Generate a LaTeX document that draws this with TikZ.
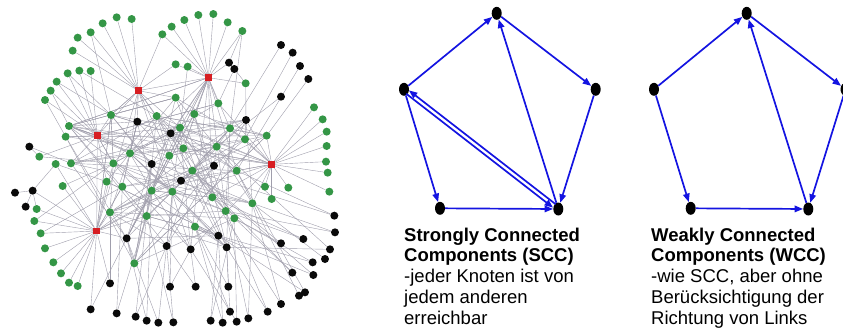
\documentclass[tikz,border=0pt]{standalone}
\usepackage{fontspec}
\setmainfont{Liberation Sans}
\usetikzlibrary{arrows.meta,shapes.geometric,backgrounds}
\definecolor{ngreen}{RGB}{52,150,70}
\definecolor{nred}{RGB}{215,30,35}
\definecolor{nblack}{RGB}{10,10,10}
\definecolor{nedge}{RGB}{160,158,172}
\definecolor{abl}{RGB}{20,20,225}
\tikzset{
 gdot/.style={circle,fill=ngreen,inner sep=0,minimum size=8pt},
 bdot/.style={circle,fill=nblack,inner sep=0,minimum size=8pt},
 rdot/.style={rectangle,fill=nred,inner sep=0,minimum size=6.5pt},
 nline/.style={draw=nedge,line width=0.4pt},
 vx/.style={ellipse,fill=black,inner sep=0,minimum width=10pt,minimum height=13pt},
 arr/.style={draw=abl,line width=1.7pt,-{Triangle[length=8.5pt,width=6.5pt]}},
 caption/.style={anchor=north west,inner sep=0,align=left,font=\fontsize{18.5}{20.8}\selectfont}
}
\begin{document}
\begin{tikzpicture}[x=1pt,y=-1pt]
\useasboundingbox (0,0) rectangle (843,335);
% ---------------- network ----------------
\begin{scope}[x=0.33333pt,y=-0.33333pt]
\foreach \x/\y [count=\i] in {308/70,350/52,395/57,272/97,233/113,218/152,203/220,238/212,272/213,170/245,
 152/272,135/300,487/103,515/80,553/60,595/45,640/42,683/67,727/93,527/193,
 563/200,737/250,527/293,655/310,942/322,968/358,980/395,980/438,978/485,983/518,
 988/575,865/563,815/597,795/560,207/378,197/410,118/470,167/492,213/490,188/558,
 110/627,103/663,122/700,135/745,160/787,183/820,207/848,233/858,333/345,470/348,
 583/342,540/383,690/385,735/418,800/407,390/460,340/490,508/467,550/445,650/440,
 710/512,577/512,320/545,367/560,455/572,517/575,637/592,677/633,703/655,757/610,
 330/637,440/648,585/680,403/790}
 \node[gdot] (g\i) at (\x,\y) {};
\foreach \x/\y [count=\i] in {843/135,878/158,900/198,925/237,843/290,687/188,703/207,738/360,412/365,512/400,
 455/492,642/497,543/542,88/440,45/578,98/572,77/620,380/715,500/738,572/748,
 655/707,680/742,1003/647,1005/697,843/730,910/717,990/748,975/777,938/787,940/825,
 877/818,897/887,915/877,843/912,803/935,745/955,710/965,668/968,632/962,690/935,
 685/860,587/860,510/860,520/967,475/968,440/962,407/950,350/940,272/928,330/850}
 \node[bdot] (b\i) at (\x,\y) {};
\foreach \x/\y [count=\i] in {415/272,625/233,292/407,815/493,290/693}
 \node[rdot] (r\i) at (\x,\y) {};
\begin{pgfonlayer}{background}
 \foreach \t in {g1,g2,g3,g4,g5,g6,g13,g20,g23,g49,g50,b9,g56,r2,r3,g52}
  \draw[nline] (r1) -- (\t);
 \foreach \t in {g13,g14,g15,g16,g17,g18,g19,g20,g21,g22,g24,g51,g52,b6,b10,g53,g59}
  \draw[nline] (r2) -- (\t);
 \foreach \t in {g7,g8,g9,g10,g11,g12,g35,g36,g37,g39,g49,g57,g63,r5,g56}
  \draw[nline] (r3) -- (\t);
 \foreach \t in {g25,g26,g27,g28,g29,g30,g31,g32,g33,g34,g55,g54,g61,g53,g70,g60}
  \draw[nline] (r4) -- (\t);
 \foreach \t in {g40,g41,g42,g43,g44,g45,g46,g47,g48,g63,g71,g64,b18,b16,g38,b50,b49,g65}
  \draw[nline] (r5) -- (\t);
 \foreach \s/\t in {b1/g53,b2/g54,b3/g61,b4/g55,b5/g60,b7/g22,b6/g19,b14/g37,b14/g39,b15/b16,b16/g38,b17/b16,
  b44/b19,b45/b19,b46/b18,b47/g72,b48/g72,b43/b20,b42/b20,b41/b22,b40/b22,b39/b21,b38/g73,b37/g69,
  b36/g70,b35/g68,b34/g70,b33/g61,b32/g61,b31/g67,b30/g62,b29/g69,b28/g70,b27/g60,b26/g66,b25/g62,
  b24/g68,b23/g61,g74/b18,g74/g65,b50/g71,b49/b18,b48/g64,b43/g66,b41/g73,b42/b19,b44/g72,b45/b18,
  b25/g69,b26/g67,b24/g70,b23/g62,b27/b22,b30/g73,b33/b21,b39/g69,b37/b20,b38/b21,b47/b19,b46/g65,
  b40/g73,b36/g68,b29/b21,b31/g62,b35/b22,b34/g67,g22/b8,g19/g53,g24/b7,g21/g52,g8/g50,g7/g49,g4/g49,
  g12/g36,g11/g35,g10/g49,g37/g57,g38/g63,g39/g56,g40/g57,g41/b16,g42/g57,g43/g64}
  \draw[nline] (\s) -- (\t);
 \pgfmathsetseed{11}
 \pgfmathdeclarerandomlist{inner}{{g49}{g50}{g51}{g52}{g53}{g54}{g55}{g56}{g57}{g58}{g59}{g60}{g61}{g62}{g63}{g64}{g65}{g66}{g67}{g68}{g69}{g70}{g71}{g72}{g73}{b8}{b9}{b10}{b11}{b12}{b13}{b18}{b19}{b20}{b21}{b22}{r1}{r2}{r3}{r4}{r5}{g23}{g24}{g35}{g36}{g39}{g74}}
 \foreach \k in {1,...,190}{
  \pgfmathrandomitem{\ea}{inner}\pgfmathrandomitem{\eb}{inner}
  \draw[nline] (\ea) -- (\eb);
 }
\end{pgfonlayer}
\end{scope}
% ---------------- SCC ----------------
\node[vx] (sT) at (496.7,13.3) {};
\node[vx] (sL) at (404,89.3) {};
\node[vx] (sR) at (595.7,89.3) {};
\node[vx] (sBL) at (440,208.3) {};
\node[vx] (sBR) at (558.3,209) {};
\draw[arr] (sL) -- (sT);
\draw[arr] (sT) -- (sR);
\draw[arr] (sR) -- (sBR);
\draw[arr] (sL) -- (sBL);
\draw[arr] (sBL) -- (sBR);
\draw[arr] (sBR) -- (sT);
\draw[arr,shorten <=5pt,shorten >=4.5pt] ([shift={(1.3,-1.7)}]sBR.center) -- ([shift={(1.3,-1.7)}]sL.center);
\draw[arr,shorten <=4.5pt,shorten >=5pt] ([shift={(-1.3,1.7)}]sL.center) -- ([shift={(-1.3,1.7)}]sBR.center);
% ---------------- WCC ----------------
\node[vx] (wT) at (746.7,13.3) {};
\node[vx] (wL) at (654,89.3) {};
\node[vx] (wR) at (845.5,89.3) {};
\node[vx] (wBL) at (690.7,208.3) {};
\node[vx] (wBR) at (808.3,209) {};
\draw[arr] (wL) -- (wT);
\draw[arr] (wT) -- (wR);
\draw[arr] (wR) -- (wBR);
\draw[arr] (wL) -- (wBL);
\draw[arr] (wBL) -- (wBR);
\draw[arr] (wBR) -- (wT);
% ---------------- captions ----------------
\node[caption] (scc) at (404,227.5) {\textbf{Strongly Connected}\\\textbf{Components (SCC)}\\-jeder Knoten ist von\\jedem anderen\\erreichbar};
\node[caption] (wcc) at (651,227.5) {\textbf{Weakly Connected}\\\textbf{Components (WCC)}\\-wie SCC, aber ohne\\Berücksichtigung der\\Richtung von Links};
\end{tikzpicture}
\end{document}
